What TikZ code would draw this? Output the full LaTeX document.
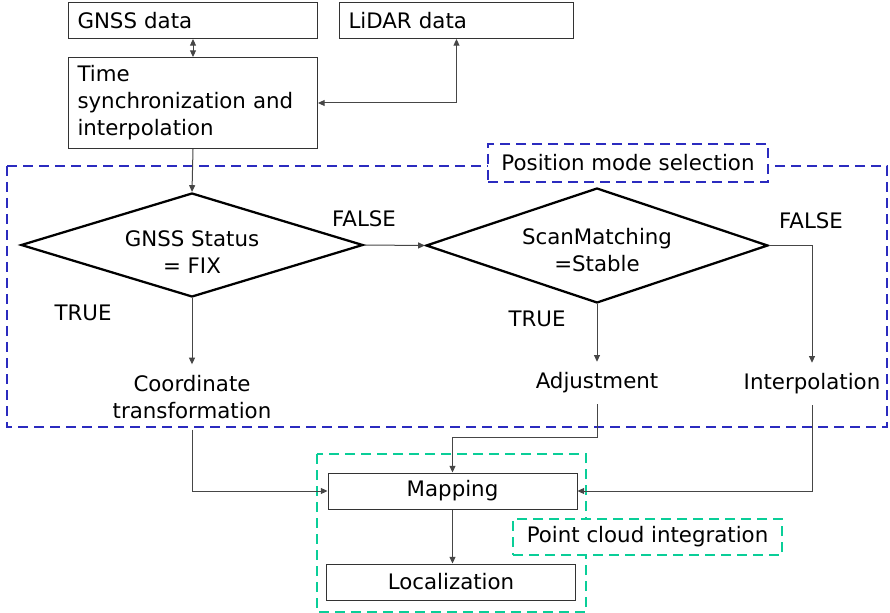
\documentclass[tikz,border=0pt]{standalone}
\usepackage{fontspec}
\setmainfont{DejaVu Sans}
\usetikzlibrary{shapes.geometric,arrows.meta}

\definecolor{modeblue}{RGB}{43,43,191}
\definecolor{cloudgreen}{RGB}{10,206,152}
\definecolor{linegray}{RGB}{70,70,70}

\begin{document}
\begin{tikzpicture}[x=0.75pt,y=-0.75pt,
    font=\fontsize{16}{20.25}\selectfont,
    >={Triangle[length=5pt,width=4.5pt]},
    databox/.style={draw=black!80, line width=0.75pt, inner xsep=6.75pt, inner ysep=0pt,
        minimum height=27pt, text width=173.25pt, align=left},
    procbox/.style={draw=black!80, line width=0.75pt, minimum width=186.75pt,
        minimum height=27pt, align=center},
    decision/.style={diamond, aspect=3.3, draw=black, line width=1.7pt, inner sep=0pt,
        minimum width=256.5pt},
    outcome/.style={inner ysep=8pt, align=center},
    conn/.style={draw=linegray, line width=0.75pt},
    modegroup/.style={draw=modeblue, line width=2.2pt, dash pattern=on 7.5pt off 4.5pt},
    cloudgroup/.style={draw=cloudgreen, line width=2.2pt, dash pattern=on 7.5pt off 4.5pt},
    grouplabel/.style={fill=white, line width=2.2pt, dash pattern=on 7.5pt off 4.5pt,
        minimum height=27pt, inner xsep=6pt}]

    \useasboundingbox (0,0) rectangle (890,613);

    % group frames
    \draw[modegroup] (7,166) rectangle (887,427);
    \node[grouplabel, draw=modeblue, minimum width=210pt, minimum height=28.5pt] (modesel) at (628,163) {Position mode selection};
    \draw[cloudgroup] (317,454) rectangle (586,612);
    \node[grouplabel, draw=cloudgreen, minimum width=201.75pt] (cloudint) at (647.5,537) {Point cloud integration};

    % input data
    \node[databox, anchor=north west] (gnss) at (68,2) {GNSS data};
    \node[databox, anchor=north west, text width=162pt] (lidar) at (339,2) {LiDAR data};
    \node[databox, anchor=north west, minimum height=68.25pt] (sync) at (68,57) {Time\\synchronization and\\interpolation};

    % mode decisions
    \node[decision, minimum height=78pt] (fix) at (192,245) {};
    \node[align=center] (fixtext) at (192,252) {GNSS Status\\= FIX};
    \node[decision, minimum height=86.25pt] (scan) at (597,245.5) {};
    \node[align=center] (scantext) at (597,250) {ScanMatching\\=Stable};

    \node[outcome] (coord) at (192,397) {Coordinate\\transformation};
    \node[outcome] (adjust) at (597,383) {Adjustment};
    \node[outcome] (interp) at (812,384) {Interpolation};

    \node (false1) at (364,219) {FALSE};
    \node (true1) at (83,313) {TRUE};
    \node (true2) at (537,319) {TRUE};
    \node (false2) at (811,221) {FALSE};

    % point cloud
    \node[procbox] (map) at (452.5,491) {Mapping};
    \node[procbox] (loc) at (451,582) {Localization};

    % connectors
    \draw[conn,<->] (gnss) -- (sync);
    \draw[conn,<->] (sync.east) -| (lidar.south);
    \draw[conn,->] (sync.south) -- (fix.north);
    \draw[conn,->] (fix.east) -- (scan.west);
    \draw[conn,->] (fix.south) -- (coord.north);
    \draw[conn,->] (scan.south) -- (adjust.north);
    \draw[conn,->] (scan.east) -| (interp.north);
    \draw[conn,->] (coord.south) |- (map.west);
    \coordinate (adjbend) at (597,437);
    \draw[conn,->] (adjust.south) -- (adjbend) -| (map.north);
    \draw[conn,->] (interp.south) |- (map.east);
    \draw[conn,->] (map.south) -- (map.south |- loc.north);

\end{tikzpicture}
\end{document}
